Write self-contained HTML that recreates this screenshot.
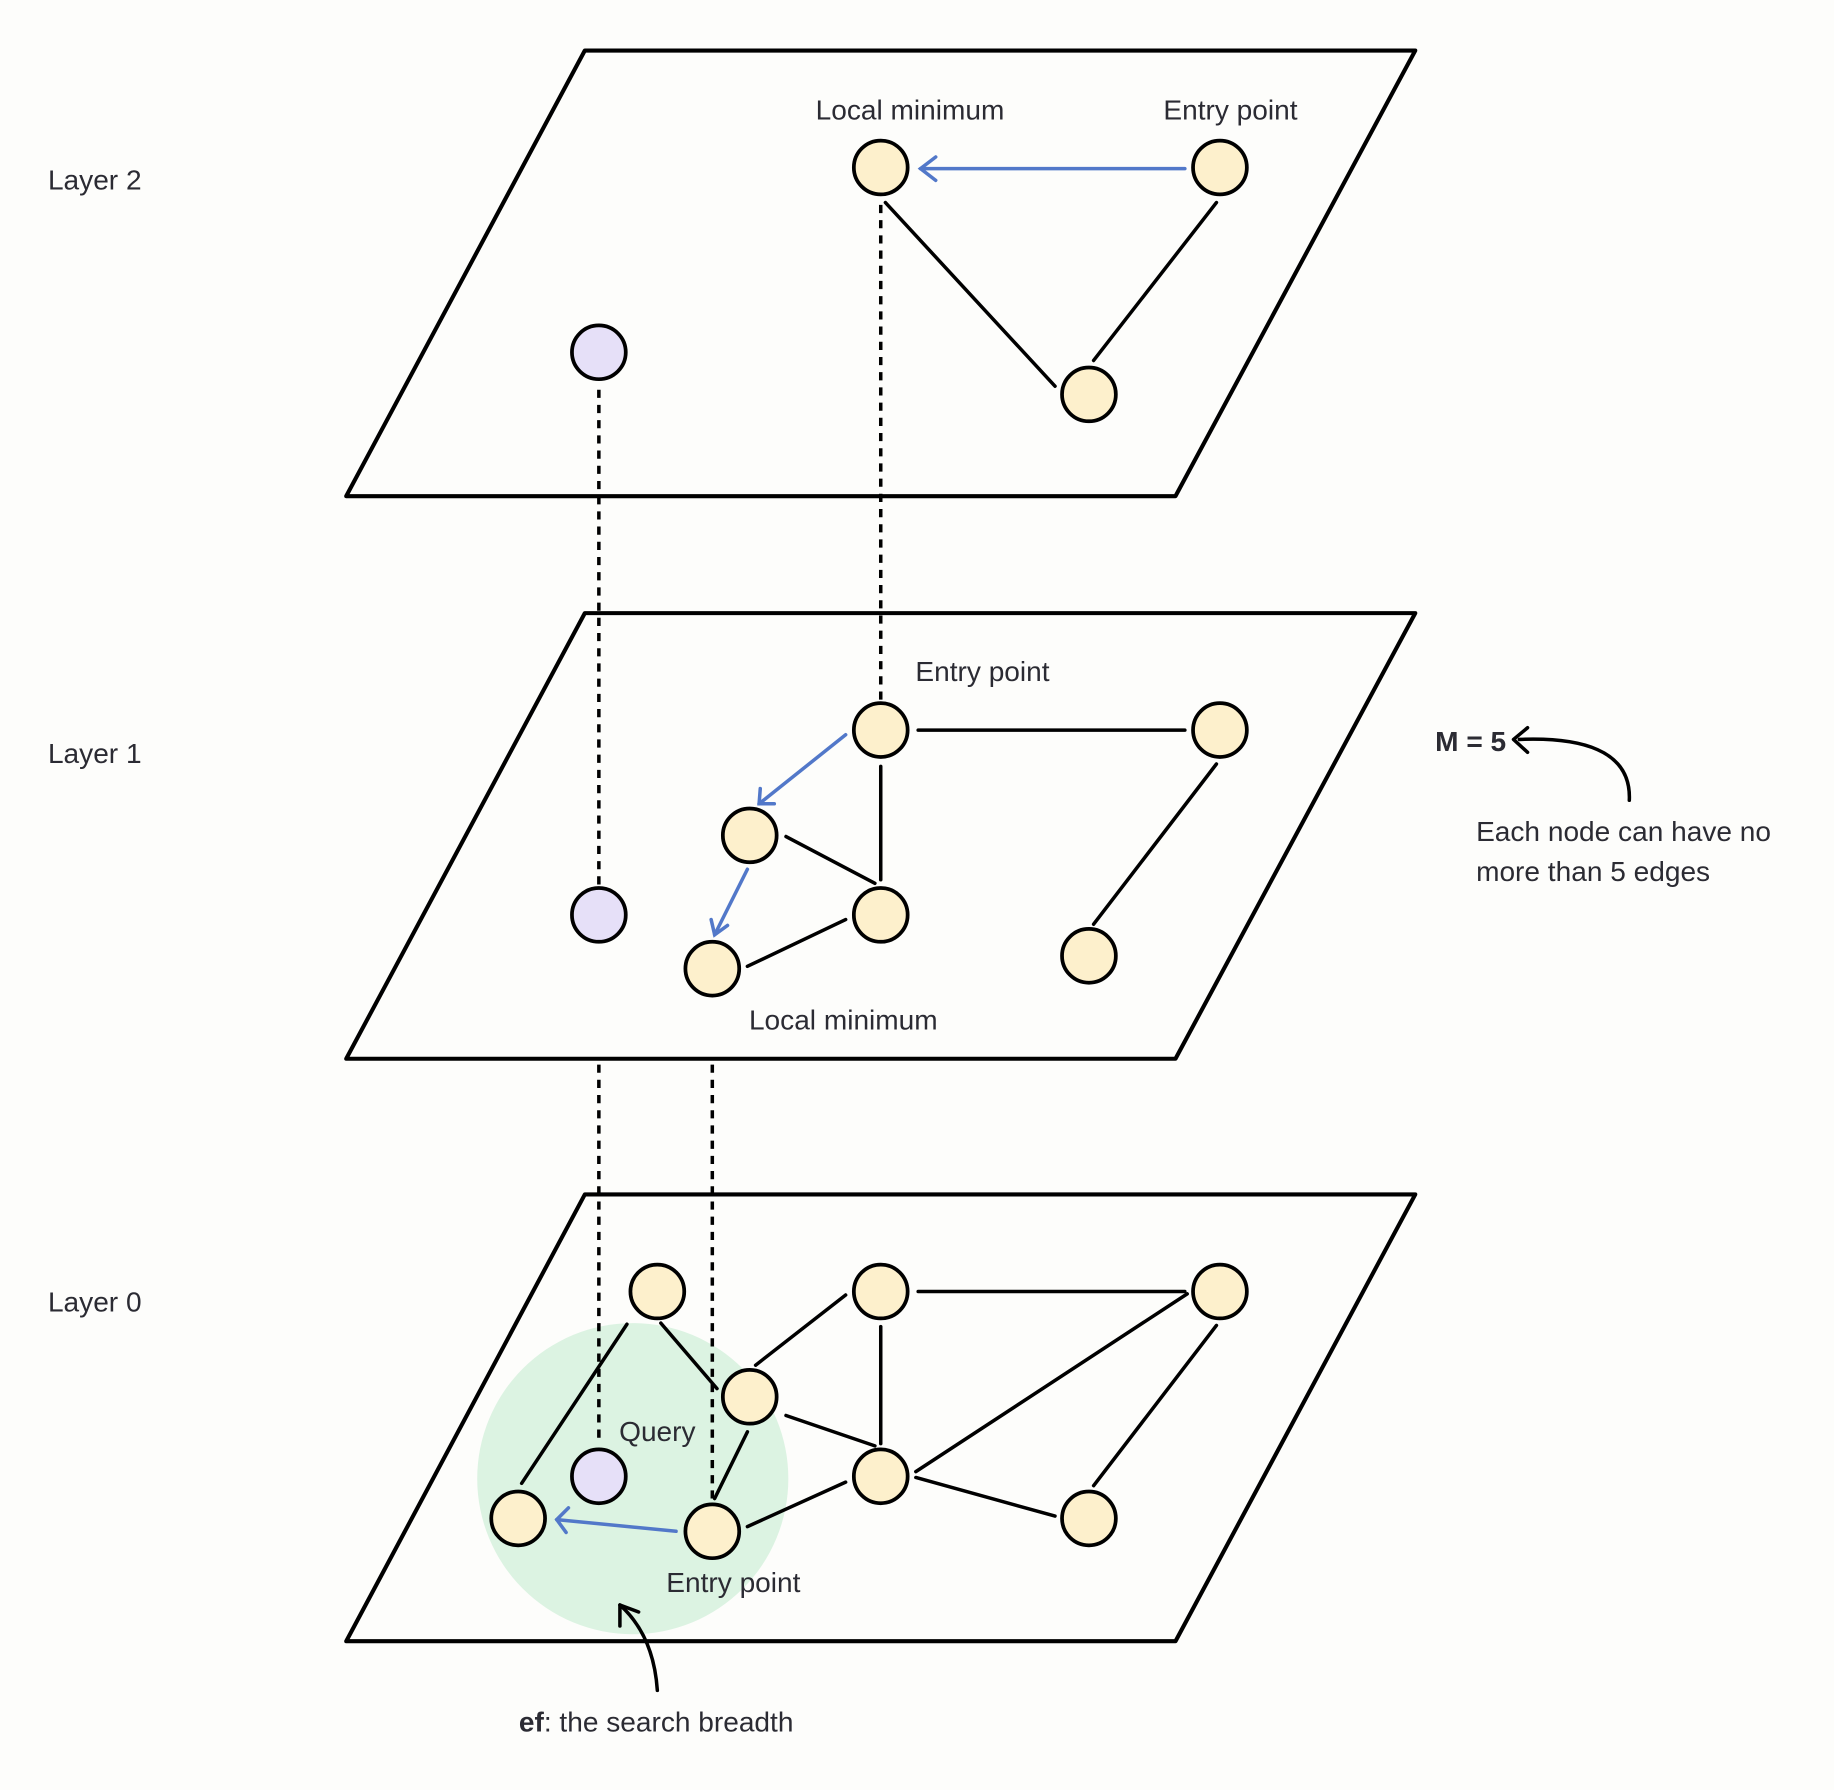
<!DOCTYPE html>
<html><head><meta charset="utf-8"><style>
html,body{margin:0;padding:0;background:#fdfdfb;width:1834px;height:1790px;overflow:hidden;}
svg{display:block;}
text{font-family:"Liberation Sans",sans-serif;font-size:24px;fill:#2b2b33;}
</style></head><body>
<svg width="1834" height="1790" viewBox="0 0 1568 1530" xmlns="http://www.w3.org/2000/svg">
<rect x="0" y="0" width="1600" height="1600" fill="#fdfdfb"/>
<g fill="none" stroke="#000" stroke-width="3.5" stroke-linejoin="round">
<polygon points="500,43 1210,43 1005,424 296,424"/>
<polygon points="500,524 1210,524 1005,905 296,905"/>
</g>
<circle cx="541" cy="1264" r="133" fill="#dcf3e2"/>
<polygon points="500,1021 1210,1021 1005,1403 296,1403" fill="none" stroke="#000" stroke-width="3.5" stroke-linejoin="round"/>
<g stroke="#000" stroke-width="3" stroke-dasharray="7,6" fill="none">
<line x1="512" y1="333" x2="512" y2="760"/>
<line x1="753" y1="175" x2="753" y2="600"/>
<line x1="512" y1="910" x2="512" y2="1232"/>
<line x1="609" y1="910" x2="609" y2="1282"/>
</g>
<g stroke="#000" stroke-width="3" fill="none" stroke-linecap="round">
<line x1="757" y1="173" x2="902" y2="330"/>
<line x1="1040" y1="173" x2="935" y2="308"/>
<line x1="785" y1="624" x2="1013" y2="624"/>
<line x1="1040" y1="653" x2="935" y2="790"/>
<line x1="753" y1="655" x2="753" y2="752"/>
<line x1="672" y1="715" x2="748" y2="755"/>
<line x1="639" y1="826" x2="723" y2="786"/>
<line x1="565" y1="1131" x2="613" y2="1187"/>
<line x1="646" y1="1167" x2="723" y2="1107"/>
<line x1="785" y1="1104" x2="1013" y2="1104"/>
<line x1="753" y1="1134" x2="753" y2="1234"/>
<line x1="672" y1="1210" x2="748" y2="1236"/>
<line x1="783" y1="1258" x2="1015" y2="1106"/>
<line x1="1040" y1="1133" x2="935" y2="1270"/>
<line x1="783" y1="1263" x2="902" y2="1296"/>
<line x1="639" y1="1305" x2="723" y2="1267"/>
<line x1="639" y1="1224" x2="611" y2="1281"/>
<line x1="446" y1="1268" x2="536" y2="1132"/>
<path d="M1393,684 C1395,640 1350,630 1299,632"/>
<path d="M1294,632 L1306,622 M1294,632 L1306,643"/>
<path d="M562,1445 C560,1415 550,1390 530,1372"/>
<path d="M530,1372 L530,1390 M530,1372 L546,1378"/>
</g>
<g stroke="#5278c9" stroke-width="3" fill="none" stroke-linecap="round">
<line x1="1013" y1="144" x2="787" y2="144"/>
<path d="M800,134 L787,144 L800,154"/>
<line x1="723" y1="628" x2="649" y2="687"/>
<path d="M650,674 L649,687 L662,687"/>
<line x1="639" y1="743" x2="611" y2="799"/>
<path d="M608,786 L611,799 L622,791"/>
<line x1="578" y1="1309" x2="476" y2="1299"/>
<path d="M486,1289 L476,1299 L484,1310"/>
</g>
<g stroke="#000" stroke-width="3.2" fill="#fdf0cc">
<circle cx="753" cy="143" r="23"/><circle cx="1043" cy="143" r="23"/><circle cx="931" cy="337" r="23"/>
<circle cx="753" cy="624" r="23"/><circle cx="1043" cy="624" r="23"/><circle cx="641" cy="714" r="23"/>
<circle cx="753" cy="782" r="23"/><circle cx="609" cy="828" r="23"/><circle cx="931" cy="817" r="23"/>
<circle cx="562" cy="1104" r="23"/><circle cx="753" cy="1104" r="23"/><circle cx="1043" cy="1104" r="23"/>
<circle cx="641" cy="1194" r="23"/><circle cx="753" cy="1262" r="23"/><circle cx="931" cy="1298" r="23"/>
<circle cx="443" cy="1298" r="23"/><circle cx="609" cy="1309" r="23"/>
</g>
<g stroke="#000" stroke-width="3.2" fill="#e6e0f8">
<circle cx="512" cy="301" r="23"/><circle cx="512" cy="782" r="23"/><circle cx="512" cy="1262" r="23"/>
</g>
<text x="41" y="162">Layer 2</text>
<text x="41" y="652">Layer 1</text>
<text x="41" y="1121">Layer 0</text>
<g text-anchor="middle">
<text x="778" y="102">Local minimum</text>
<text x="1052" y="102">Entry point</text>
<text x="840" y="582">Entry point</text>
<text x="721" y="880">Local minimum</text>
<text x="562" y="1232">Query</text>
<text x="627" y="1361">Entry point</text>
<text x="561" y="1480"><tspan font-weight="bold">ef</tspan>: the search breadth</text>
</g>
<text x="1227" y="642" font-weight="bold">M = 5</text>
<text x="1262" y="719">Each node can have no</text>
<text x="1262" y="753">more than 5 edges</text>
</svg>
</body></html>
